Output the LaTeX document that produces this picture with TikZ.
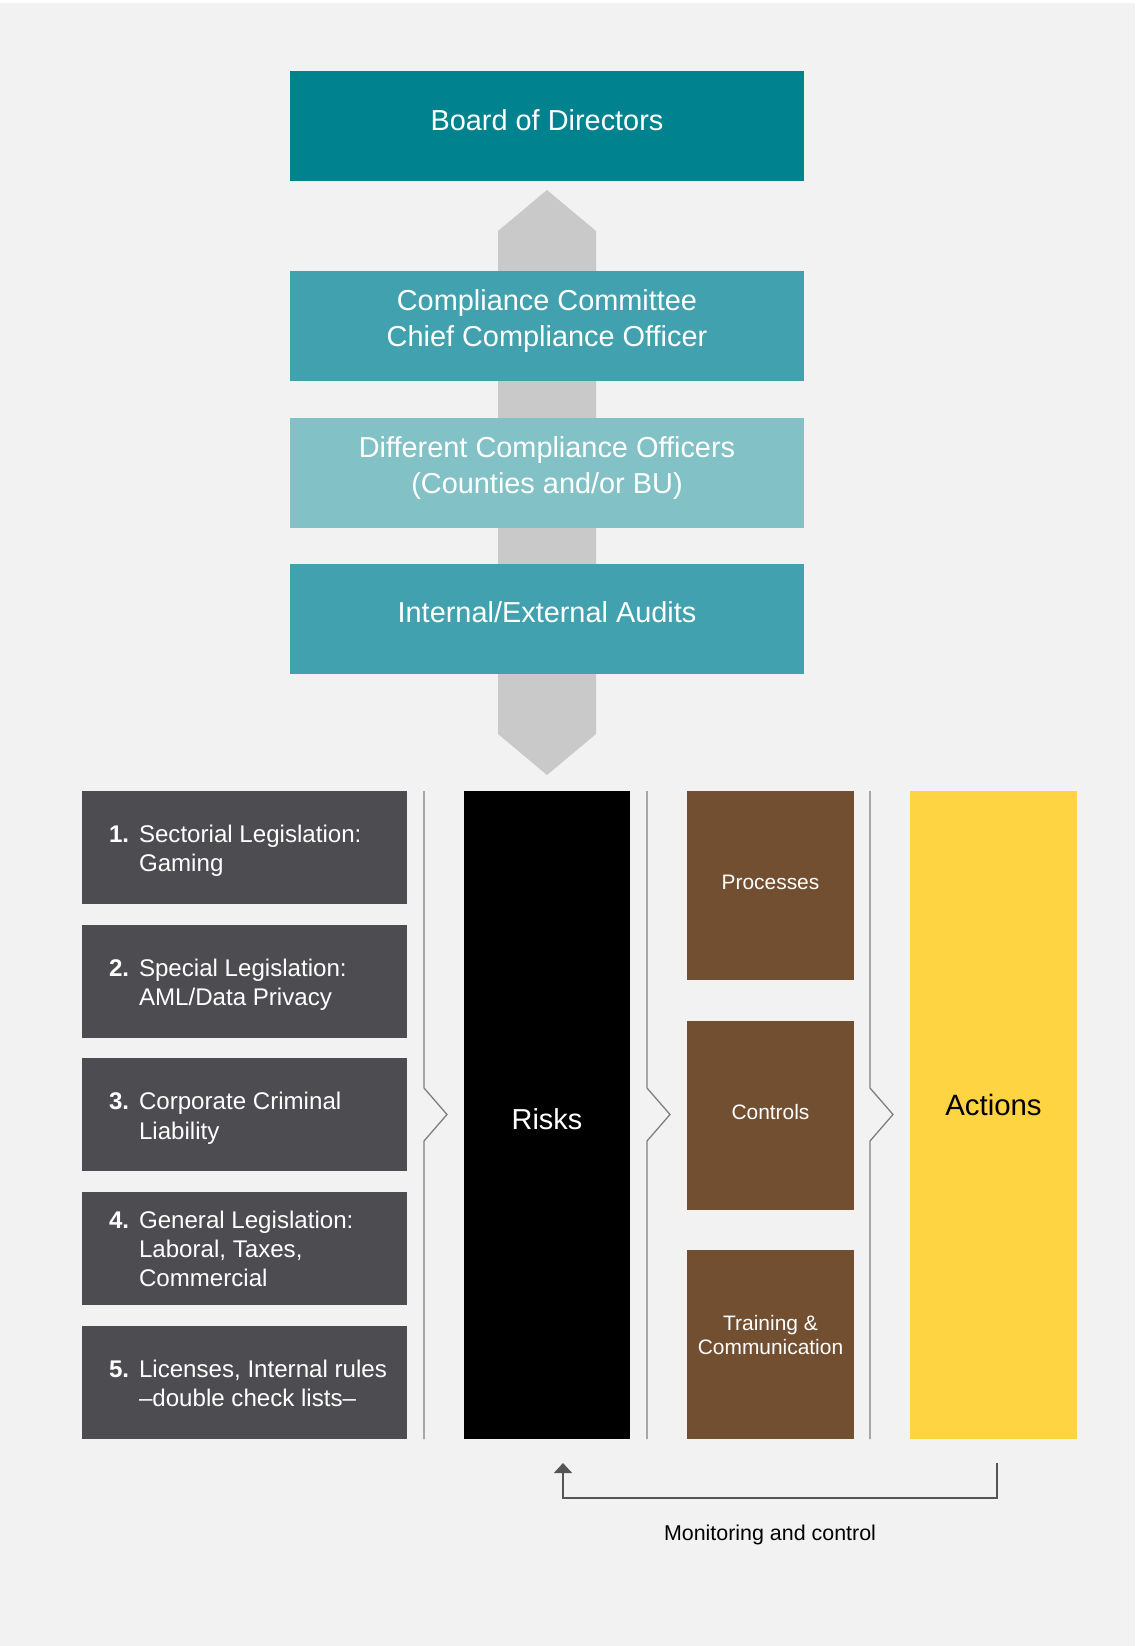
\documentclass[tikz,border=0pt]{standalone}
\usepackage{fontspec}
\setmainfont{Liberation Sans}
\usetikzlibrary{arrows.meta}
\definecolor{bgc}{HTML}{F2F2F2}
\definecolor{boardc}{HTML}{00828F}
\definecolor{tealc}{HTML}{42A1AE}
\definecolor{lightc}{HTML}{82C1C6}
\definecolor{arrowc}{HTML}{C9C9C9}
\definecolor{legc}{HTML}{4D4C51}
\definecolor{brownc}{HTML}{734F32}
\definecolor{yellowc}{HTML}{FFD442}
\definecolor{sepc}{HTML}{7F7F7F}
\definecolor{fbc}{HTML}{555555}
\newcommand{\legtab}[2]{\begin{tabular}{@{}p{30bp}@{}l@{}}\textbf{#1} & #2\end{tabular}}
\begin{document}
\begin{tikzpicture}[x=1bp,y=-1bp,
  topbox/.style={rectangle,minimum width=514bp,minimum height=110bp,inner sep=0pt},
  toptext/.style={inner sep=0pt,text=white,align=center,font=\fontsize{29}{37}\selectfont},
  legbox/.style={rectangle,fill=legc,minimum width=325bp,minimum height=113bp,inner sep=0pt},
  legtext/.style={anchor=west,inner sep=0pt,text=white,font=\fontsize{24.2}{29.5}\selectfont},
  colbox/.style={rectangle,minimum width=167bp,inner sep=0pt},
  brownbox/.style={colbox,fill=brownc,minimum height=189bp},
  browntext/.style={inner sep=0pt,text=white,align=center,font=\fontsize{21}{24.5}\selectfont},
  sepline/.style={draw=sepc,line width=1.3bp},
  fbline/.style={draw=fbc,line width=1.3bp}]
\useasboundingbox (0,0) rectangle (1135,1646);
\fill[bgc] (0,0) rectangle (1135,1646);
\fill[white] (0,0) rectangle (1135,3);

% big grey double arrow
\fill[arrowc] (547,190) -- (596,231) -- (596,734) -- (547,775) -- (498,734) -- (498,231) -- cycle;

% top boxes
\node[topbox,fill=boardc] (board) at (547,126) {};
\node[topbox,fill=tealc] (comm) at (547,326) {};
\node[topbox,fill=lightc] (diff) at (547,473) {};
\node[topbox,fill=tealc] (audit) at (547,619) {};
\node[toptext] (boardt) at (547,120) {Board of Directors};
\node[toptext] (commt) at (547,321) {Compliance Committee\\Chief Compliance Officer};
\node[toptext] (difft) at (547,468) {Different Compliance Officers\\(Counties and/or BU)};
\node[toptext] (auditt) at (547,612) {Internal/External Audits};

% legislation boxes
\node[legbox] (l1) at (244.5,847) {};
\node[legbox] (l2) at (244.5,981) {};
\node[legbox] (l3) at (244.5,1114.5) {};
\node[legbox] (l4) at (244.5,1248.5) {};
\node[legbox] (l5) at (244.5,1382) {};
\node[legtext] (l1t) at ([xshift=27bp,yshift=-4bp]l1.west) {\legtab{1.}{Sectorial Legislation:\\ & Gaming}};
\node[legtext] (l2t) at ([xshift=27bp,yshift=-4bp]l2.west) {\legtab{2.}{Special Legislation:\\ & AML/Data Privacy}};
\node[legtext] (l3t) at ([xshift=27bp,yshift=-4bp]l3.west) {\legtab{3.}{Corporate Criminal\\ & Liability}};
\node[legtext] (l4t) at ([xshift=27bp,yshift=-3bp]l4.west) {\legtab{4.}{General Legislation:\\ & Laboral, Taxes,\\ & Commercial}};
\node[legtext] (l5t) at ([xshift=27bp,yshift=-4bp]l5.west) {\legtab{5.}{Licenses, Internal rules\\ & –double check lists–}};

% risks
\node[colbox,fill=black,minimum width=166bp,minimum height=648bp] (risks) at (547,1115) {};
\node[inner sep=0pt,text=white,font=\fontsize{29}{35}\selectfont] (riskst) at (547,1119) {Risks};

% brown boxes
\node[brownbox] (proc) at (770.5,885.5) {};
\node[brownbox] (ctrl) at (770.5,1115.5) {};
\node[brownbox] (train) at (770.5,1344.5) {};
\node[browntext] (proct) at (770.5,882) {Processes};
\node[browntext] (ctrlt) at (770.5,1112) {Controls};
\node[browntext] (traint) at (770.5,1335) {Training \&\\Communication};

% actions
\node[colbox,fill=yellowc,minimum height=648bp] (actions) at (993.5,1115) {};
\node[inner sep=0pt,text=black,font=\fontsize{29.5}{35}\selectfont] (actionst) at (993.5,1105) {Actions};

% separator chevron lines
\foreach \sx in {424,647,870}{
  \draw[sepline,line join=miter] (\sx,791) -- (\sx,1088) -- (\sx+23,1114.5) -- (\sx,1141) -- (\sx,1439);
}

% feedback loop
\coordinate (fbstart) at (997,1463);
\coordinate (fbend) at (563,1463);
\draw[fbline,-{Triangle[width=18bp,length=10bp]}] (fbstart) -- ++(0,35) -| (fbend);
\node[font=\fontsize{21.5}{25}\selectfont,text=black,inner sep=0pt] (mon) at (770,1535) {Monitoring and control};
\end{tikzpicture}
\end{document}
